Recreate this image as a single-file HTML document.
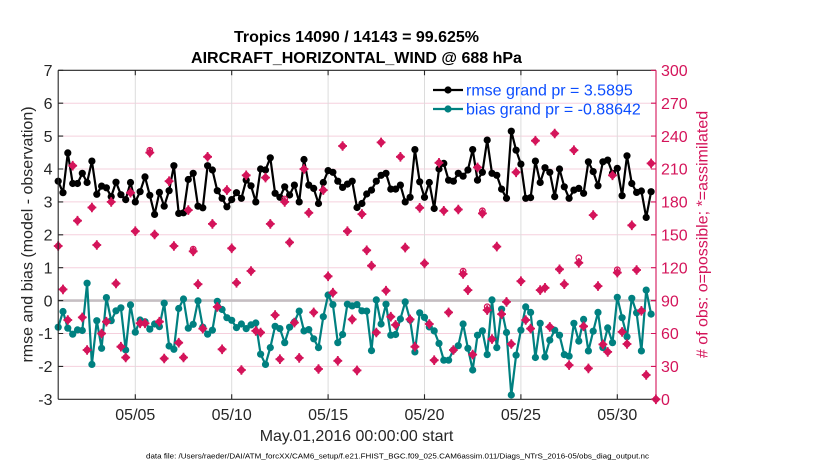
<!DOCTYPE html>
<html><head><meta charset="utf-8"><style>
html,body{margin:0;padding:0;background:#fff;}
svg{display:block;font-family:"Liberation Sans",Arial,Helvetica,sans-serif;}
</style></head><body>
<svg width="830" height="470" viewBox="0 0 830 470" xmlns="http://www.w3.org/2000/svg">
<defs>
<marker id="mb" viewBox="-5 -5 10 10" markerWidth="10" markerHeight="10" refX="0" refY="0" markerUnits="userSpaceOnUse"><circle r="3.6" fill="#000"/></marker>
<marker id="mt" viewBox="-5 -5 10 10" markerWidth="10" markerHeight="10" refX="0" refY="0" markerUnits="userSpaceOnUse"><circle r="3.6" fill="#008080"/></marker>
<marker id="mp" viewBox="-6 -6 12 12" markerWidth="12" markerHeight="12" refX="0" refY="0" markerUnits="userSpaceOnUse"><path d="M0,-4.6L4.4,0L0,4.6L-4.4,0Z" fill="#d4145a"/><path d="M-4.4,0H4.4M0,-4.8V4.8" stroke="#d4145a" stroke-width="1.8"/><circle r="3.3" fill="#d4145a"/></marker>
</defs>
<rect width="830" height="470" fill="#fff"/>
<!-- horizontal grid -->
<g stroke="#f5d0dd" stroke-width="1">
<line x1="58.2" x2="656" y1="103.2" y2="103.2"/>
<line x1="58.2" x2="656" y1="136.1" y2="136.1"/>
<line x1="58.2" x2="656" y1="169.0" y2="169.0"/>
<line x1="58.2" x2="656" y1="201.9" y2="201.9"/>
<line x1="58.2" x2="656" y1="234.8" y2="234.8"/>
<line x1="58.2" x2="656" y1="267.7" y2="267.7"/>
<line x1="58.2" x2="656" y1="333.5" y2="333.5"/>
<line x1="58.2" x2="656" y1="366.4" y2="366.4"/>
</g>
<!-- vertical grid -->
<g stroke="#dcdcdc" stroke-width="1">
<line x1="135.3" x2="135.3" y1="70.3" y2="399.3"/>
<line x1="231.7" x2="231.7" y1="70.3" y2="399.3"/>
<line x1="328.1" x2="328.1" y1="70.3" y2="399.3"/>
<line x1="424.5" x2="424.5" y1="70.3" y2="399.3"/>
<line x1="520.9" x2="520.9" y1="70.3" y2="399.3"/>
<line x1="617.3" x2="617.3" y1="70.3" y2="399.3"/>
</g>
<!-- zero line -->
<line x1="58.2" x2="656" y1="300.6" y2="300.6" stroke="#c6bfc3" stroke-width="2.6"/>

<!-- rmse -->
<polyline fill="none" stroke="#000" stroke-width="2.2" stroke-linejoin="round" marker-start="url(#mb)" marker-mid="url(#mb)" marker-end="url(#mb)" points="58.2,181.2 63.0,192.7 67.8,152.9 72.7,183.5 77.5,183.5 82.3,173.3 87.1,182.5 91.9,161.1 96.8,194.3 101.6,186.1 106.4,187.8 111.2,196.6 116.0,182.2 120.9,194.7 125.7,199.6 130.5,182.5 135.3,201.9 140.1,191.7 145.0,176.9 149.8,195.3 154.6,214.4 159.4,192.4 164.2,206.2 169.1,190.7 173.9,165.7 178.7,213.4 183.5,212.8 188.3,179.5 193.2,173.3 198.0,206.2 202.8,207.8 207.6,165.7 212.4,170.0 217.3,190.7 222.1,198.3 226.9,206.8 231.7,199.6 236.5,192.7 241.4,198.3 246.2,180.2 251.0,185.8 255.8,201.9 260.6,169.0 265.5,170.0 270.3,157.8 275.1,193.3 279.9,197.3 284.7,186.8 289.6,195.0 294.4,185.1 299.2,201.9 304.0,159.5 308.8,185.1 313.7,188.4 318.5,203.5 323.3,182.5 328.1,170.6 332.9,172.3 337.8,181.2 342.6,187.4 347.4,184.1 352.2,181.2 357.0,207.5 361.9,203.5 366.7,194.0 371.5,190.1 376.3,181.2 381.1,175.3 386.0,173.3 390.8,189.1 395.6,189.1 400.4,185.1 405.2,201.9 410.1,197.3 414.9,149.6 419.7,181.8 424.5,197.3 429.3,182.5 434.2,208.5 439.0,169.0 443.8,163.4 448.6,180.2 453.4,181.2 458.3,173.3 463.1,176.2 467.9,170.0 472.7,149.6 477.5,180.2 482.4,172.3 487.2,140.1 492.0,173.3 496.8,175.3 501.6,189.1 506.5,198.3 511.3,131.2 516.1,150.2 520.9,164.1 525.7,198.3 530.6,197.6 535.4,161.1 540.2,182.5 545.0,167.7 549.8,172.3 554.7,196.6 559.5,169.0 564.3,186.8 569.1,198.3 573.9,190.1 578.8,188.4 583.6,193.3 588.4,161.8 593.2,171.6 598.0,185.8 602.9,161.8 607.7,160.1 612.5,173.3 617.3,168.3 622.1,195.7 627.0,155.8 631.8,183.5 636.6,192.4 641.4,191.0 646.2,217.4 651.1,191.7"/>

<!-- bias -->
<polyline fill="none" stroke="#008080" stroke-width="2.2" stroke-linejoin="round" marker-start="url(#mt)" marker-mid="url(#mt)" marker-end="url(#mt)" points="58.2,327.2 63.0,311.5 67.8,328.2 72.7,334.2 77.5,329.9 82.3,330.5 87.1,283.2 91.9,364.4 96.8,320.7 101.6,348.3 106.4,297.6 111.2,320.7 116.0,310.8 120.9,307.8 125.7,350.0 130.5,304.9 135.3,332.2 140.1,320.0 145.0,321.7 149.8,329.2 154.6,324.0 159.4,326.6 164.2,303.2 169.1,346.0 173.9,349.3 178.7,308.5 183.5,299.0 188.3,328.2 193.2,324.3 198.0,300.9 202.8,327.2 207.6,334.2 212.4,330.2 217.3,301.3 222.1,309.5 226.9,317.7 231.7,320.3 236.5,327.6 241.4,324.0 246.2,328.6 251.0,324.9 255.8,323.0 260.6,354.2 265.5,364.4 270.3,347.6 275.1,326.3 279.9,328.6 284.7,342.7 289.6,327.2 294.4,322.0 299.2,311.1 304.0,330.9 308.8,329.6 313.7,338.8 318.5,347.6 323.3,316.7 328.1,295.0 332.9,304.6 337.8,342.7 342.6,334.5 347.4,304.2 352.2,305.9 357.0,304.6 361.9,310.8 366.7,311.1 371.5,350.6 376.3,299.9 381.1,324.0 386.0,304.2 390.8,335.2 395.6,334.5 400.4,319.0 405.2,301.9 410.1,320.0 414.9,351.9 419.7,312.8 424.5,317.4 429.3,326.9 434.2,330.9 439.0,343.4 443.8,360.2 448.6,360.2 453.4,350.0 458.3,345.7 463.1,324.0 467.9,348.3 472.7,370.0 477.5,335.2 482.4,330.9 487.2,354.6 492.0,299.9 496.8,347.6 501.6,309.2 506.5,332.5 511.3,395.0 516.1,355.2 520.9,330.2 525.7,306.9 530.6,312.4 535.4,357.5 540.2,323.3 545.0,356.9 549.8,340.1 554.7,330.2 559.5,335.2 564.3,354.6 569.1,356.2 573.9,323.3 578.8,341.1 583.6,319.4 588.4,350.9 593.2,331.2 598.0,312.4 602.9,347.6 607.7,327.9 612.5,342.7 617.3,297.3 622.1,317.7 627.0,336.8 631.8,298.3 636.6,312.8 641.4,350.9 646.2,290.1 651.1,314.1"/>

<!-- obs counts (pink) -->
<g fill="none" stroke="#d4145a" stroke-width="1.2">
<circle cx="149.8" cy="150.3" r="2.8"/><circle cx="193.2" cy="249.2" r="2.8"/><circle cx="284.7" cy="199" r="2.8"/><circle cx="463.1" cy="271.2" r="2.8"/><circle cx="482.4" cy="210.8" r="2.8"/><circle cx="487.2" cy="306.8" r="2.8"/><circle cx="578.8" cy="257.8" r="2.8"/><circle cx="617.3" cy="269.8" r="2.8"/>
</g>
<polyline fill="none" stroke="none" marker-start="url(#mp)" marker-mid="url(#mp)" marker-end="url(#mp)" points="58.2,246.0 63.0,289.4 67.8,320.0 72.7,165.7 77.5,220.7 82.3,317.4 87.1,350.0 91.9,207.5 96.8,245.0 101.6,333.5 106.4,321.7 111.2,201.9 116.0,283.5 120.9,346.7 125.7,357.5 130.5,192.7 135.3,231.2 140.1,323.3 145.0,323.3 149.8,152.6 154.6,234.5 159.4,321.7 164.2,358.5 169.1,181.2 173.9,246.0 178.7,342.7 183.5,357.5 188.3,210.1 193.2,251.3 198.0,284.2 202.8,328.6 207.6,156.8 212.4,223.9 217.3,306.9 222.1,349.3 226.9,190.1 231.7,248.3 236.5,282.8 241.4,370.0 246.2,175.3 251.0,271.0 255.8,330.9 260.6,332.5 265.5,177.6 270.3,223.9 275.1,315.1 279.9,359.2 284.7,201.9 289.6,242.4 294.4,322.6 299.2,357.9 304.0,169.0 308.8,212.8 313.7,312.4 318.5,369.0 323.3,190.1 328.1,276.3 332.9,292.7 337.8,360.8 342.6,146.0 347.4,231.2 352.2,319.4 357.0,370.4 361.9,214.1 366.7,250.3 371.5,265.7 376.3,332.5 381.1,142.4 386.0,290.7 390.8,316.7 395.6,324.9 400.4,156.8 405.2,247.6 410.1,319.4 414.9,346.7 419.7,207.8 424.5,263.4 429.3,324.0 434.2,360.2 439.0,162.8 443.8,210.8 448.6,312.4 453.4,350.0 458.3,209.5 463.1,274.0 467.9,290.1 472.7,354.6 477.5,167.4 482.4,213.4 487.2,310.1 492.0,339.1 496.8,246.6 501.6,314.1 506.5,301.9 511.3,344.0 516.1,172.3 520.9,281.2 525.7,320.0 530.6,328.6 535.4,140.7 540.2,290.1 545.0,287.8 549.8,326.9 554.7,133.5 559.5,269.3 564.3,284.2 569.1,365.1 573.9,150.2 578.8,262.8 583.6,326.3 588.4,368.4 593.2,215.1 598.0,286.1 602.9,344.4 607.7,351.9 612.5,175.3 617.3,272.6 622.1,331.9 627.0,344.0 631.8,225.3 636.6,270.0 641.4,310.8 646.2,375.0 651.1,163.4 655.9,399.3"/>

<!-- axes spines -->
<g stroke="#262626" stroke-width="1.1" fill="none">
<line x1="58.2" y1="70.3" x2="656" y2="70.3"/>
<line x1="58.2" y1="399.3" x2="656" y2="399.3"/>
<line x1="58.2" y1="70.3" x2="58.2" y2="399.3"/>
<path d="M58.2,70.3h5M58.2,103.2h5M58.2,136.1h5M58.2,169h5M58.2,201.9h5M58.2,234.8h5M58.2,267.7h5M58.2,300.6h5M58.2,333.5h5M58.2,366.4h5"/>
<path d="M135.3,399.3v-5M231.7,399.3v-5M328.1,399.3v-5M424.5,399.3v-5M520.9,399.3v-5M617.3,399.3v-5M135.3,70.3v5M231.7,70.3v5M328.1,70.3v5M424.5,70.3v5M520.9,70.3v5M617.3,70.3v5"/>
</g>
<g stroke="#d4145a" stroke-width="1.1" fill="none">
<line x1="656" y1="70.3" x2="656" y2="399.3"/>
<path d="M656,70.3h-5M656,103.2h-5M656,136.1h-5M656,169h-5M656,201.9h-5M656,234.8h-5M656,267.7h-5M656,300.6h-5M656,333.5h-5M656,366.4h-5M656,399.3h-5"/>
</g>

<!-- left tick labels -->
<g font-size="16" fill="#262626" text-anchor="end">
<text x="52.5" y="76">7</text>
<text x="52.5" y="108.9">6</text>
<text x="52.5" y="141.8">5</text>
<text x="52.5" y="174.7">4</text>
<text x="52.5" y="207.6">3</text>
<text x="52.5" y="240.5">2</text>
<text x="52.5" y="273.4">1</text>
<text x="52.5" y="306.3">0</text>
<text x="52.5" y="339.2">-1</text>
<text x="52.5" y="372.1">-2</text>
<text x="52.5" y="405">-3</text>
</g>
<!-- right tick labels -->
<g font-size="16" fill="#d4145a" text-anchor="start">
<text x="661" y="76">300</text>
<text x="661" y="108.9">270</text>
<text x="661" y="141.8">240</text>
<text x="661" y="174.7">210</text>
<text x="661" y="207.6">180</text>
<text x="661" y="240.5">150</text>
<text x="661" y="273.4">120</text>
<text x="661" y="306.3">90</text>
<text x="661" y="339.2">60</text>
<text x="661" y="372.1">30</text>
<text x="661" y="405">0</text>
</g>
<!-- bottom tick labels -->
<g font-size="16" fill="#262626" text-anchor="middle">
<text x="135.3" y="420">05/05</text>
<text x="231.7" y="420">05/10</text>
<text x="328.1" y="420">05/15</text>
<text x="424.5" y="420">05/20</text>
<text x="520.9" y="420">05/25</text>
<text x="617.3" y="420">05/30</text>
<text x="356.5" y="441">May.01,2016 00:00:00 start</text>
</g>

<!-- axis labels -->
<text transform="translate(32.5,234.5) rotate(-90)" font-size="16" fill="#262626" text-anchor="middle">rmse and bias (model - observation)</text>
<text transform="translate(707.5,234.5) rotate(-90)" font-size="16" fill="#d4145a" text-anchor="middle"># of obs: o=possible; *=assimilated</text>

<!-- title -->
<g font-size="16" font-weight="bold" fill="#000" text-anchor="middle">
<text x="356.5" y="41.8">Tropics 14090 / 14143 = 99.625%</text>
<text x="356.5" y="62.8">AIRCRAFT_HORIZONTAL_WIND @ 688 hPa</text>
</g>

<!-- legend -->
<line x1="433" y1="90" x2="463" y2="90" stroke="#000" stroke-width="2.2"/>
<circle cx="448" cy="90" r="3.6" fill="#000"/>
<line x1="433" y1="109" x2="463" y2="109" stroke="#008080" stroke-width="2.2"/>
<circle cx="448" cy="109" r="3.6" fill="#008080"/>
<g font-size="16" fill="#0b4dff">
<text x="466" y="95.7">rmse grand pr = 3.5895</text>
<text x="466" y="114.7">bias grand pr = -0.88642</text>
</g>

<!-- footer -->
<text x="146" y="458.5" font-size="7.5" fill="#000" textLength="503" lengthAdjust="spacingAndGlyphs">data file: /Users/raeder/DAI/ATM_forcXX/CAM6_setup/f.e21.FHIST_BGC.f09_025.CAM6assim.011/Diags_NTrS_2016-05/obs_diag_output.nc</text>
</svg>
</body></html>
